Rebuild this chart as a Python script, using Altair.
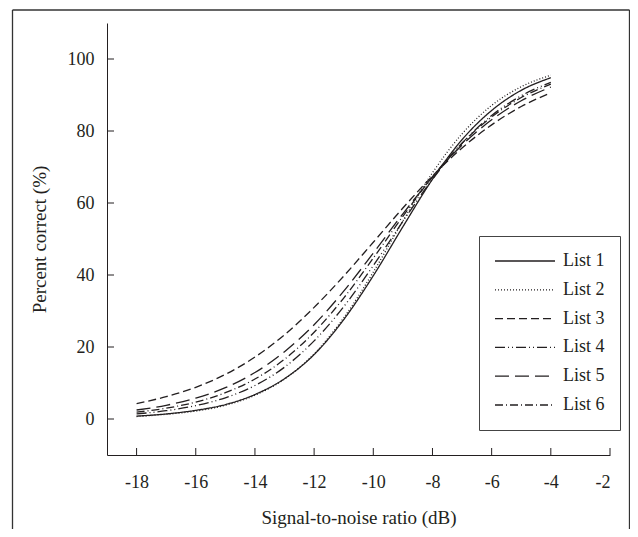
import altair as alt
import pandas as pd

INK = "#231f20"
FONT = "Liberation Serif"

snr = [-18, -17, -16, -15, -14, -13, -12, -11, -10, -9, -8, -7, -6, -5, -4]
list1 = [0.8, 1.4, 2.4, 4.0, 6.8, 11.2, 17.9, 27.6, 39.8, 53.4, 66.6, 77.6, 85.7, 91.3, 94.8]
list2 = [0.7, 1.3, 2.2, 3.8, 6.6, 11.1, 18.1, 28.1, 40.8, 55.0, 68.4, 79.2, 87.1, 92.3, 95.5]
list3 = [4.3, 6.2, 8.8, 12.4, 17.2, 23.4, 31.0, 39.7, 49.1, 58.6, 67.5, 75.3, 81.7, 86.8, 90.6]
list4 = [1.4, 2.3, 3.7, 5.9, 9.3, 14.4, 21.7, 31.2, 42.6, 54.9, 66.6, 76.6, 84.3, 89.8, 93.5]
list5 = [2.5, 3.8, 5.8, 8.7, 12.9, 18.7, 26.2, 35.5, 46.1, 57.0, 67.2, 76.1, 83.1, 88.4, 92.2]
list6 = [1.9, 3.0, 4.7, 7.3, 11.1, 16.6, 24.1, 33.6, 44.7, 56.3, 67.3, 76.6, 83.9, 89.3, 93.0]

series_names = ["List 1", "List 2", "List 3", "List 4", "List 5", "List 6"]
series_values = [list1, list2, list3, list4, list5, list6]
dash_styles = [[1, 0], [1, 2], [8, 4], [10, 3, 1, 3, 1, 3], [14, 6], [8, 3, 1, 3]]

x_ticks = [-18, -16, -14, -12, -10, -8, -6, -4, -2]
y_ticks = [0, 20, 40, 60, 80, 100]

W, H = 503, 432

rows = []
for name, vals in zip(series_names, series_values):
    for x, v in zip(snr, vals):
        rows.append({"snr": x, "pct": v, "list": name})
df = pd.DataFrame(rows)

x_scale = alt.Scale(domain=[-19, -2], nice=False, zero=False)
y_scale = alt.Scale(domain=[-10, 110], nice=False, zero=False)

x_axis = alt.Axis(values=x_ticks, title="Signal-to-noise ratio (dB)",
                  labelExpr="'' + datum.value", labelPadding=18,
                  titleY=62, titleBaseline="middle")
y_axis = alt.Axis(values=y_ticks, title="Percent correct (%)",
                  labelExpr="'' + datum.value", labelPadding=13,
                  titleX=-68, titleY=H / 2, titleBaseline="middle", titleAngle=270)

lines = alt.Chart(df).mark_line(interpolate="monotone", color=INK, strokeWidth=1.3).encode(
    x=alt.X("snr:Q", scale=x_scale, axis=x_axis),
    y=alt.Y("pct:Q", scale=y_scale, axis=y_axis),
    strokeDash=alt.StrokeDash("list:N",
                              scale=alt.Scale(domain=series_names, range=dash_styles),
                              legend=alt.Legend(title=None, orient="none", legendX=372, legendY=213,
                                                symbolType="stroke", symbolSize=3600,
                                                symbolStrokeWidth=1.3, symbolStrokeColor=INK,
                                                labelFont=FONT, labelFontSize=18, labelColor=INK,
                                                labelOffset=7, rowPadding=8.8, padding=15,
                                                clipHeight=20,
                                                strokeColor="#444", direction="vertical")),
)

ytick_df = pd.DataFrame({"pct": y_ticks})
xtick_df = pd.DataFrame({"snr": x_ticks})

yticks = alt.Chart(ytick_df).mark_rule(color=INK, strokeWidth=1).encode(
    y=alt.Y("pct:Q", scale=y_scale, axis=y_axis),
    x=alt.value(0), x2=alt.value(7),
)
xticks = alt.Chart(xtick_df).mark_rule(color=INK, strokeWidth=1).encode(
    x=alt.X("snr:Q", scale=x_scale, axis=x_axis),
    y=alt.value(H - 7), y2=alt.value(H),
)

frame_src = alt.Data(values=[{}])
frame_left = alt.Chart(frame_src).mark_rule(color="#333", strokeWidth=1.3).encode(
    x=alt.value(-94.5), y=alt.value(-13), y2=alt.value(H + 80))
frame_right = alt.Chart(frame_src).mark_rule(color="#333", strokeWidth=1.3).encode(
    x=alt.value(W + 19.5), y=alt.value(-13), y2=alt.value(H + 80))
frame_top = alt.Chart(frame_src).mark_rule(color="#333", strokeWidth=1.3).encode(
    x=alt.value(-94.5), x2=alt.value(W + 19.5), y=alt.value(-13))

chart = alt.layer(lines, yticks, xticks, frame_left, frame_right, frame_top).properties(
    width=W, height=H,
    autosize=alt.AutoSizeParams(type="none"),
    padding={"left": 99, "top": 15, "right": 20, "bottom": 74},
).configure_view(stroke=None).configure_axis(
    domainColor=INK, domainWidth=1, ticks=False, tickSize=0, grid=False,
    labelFont=FONT, labelFontSize=18, labelColor=INK,
    titleFont=FONT, titleFontSize=19, titleColor=INK, titleFontWeight="normal",
)

chart.save("out.html", embed_options={"renderer": "svg", "actions": False})
